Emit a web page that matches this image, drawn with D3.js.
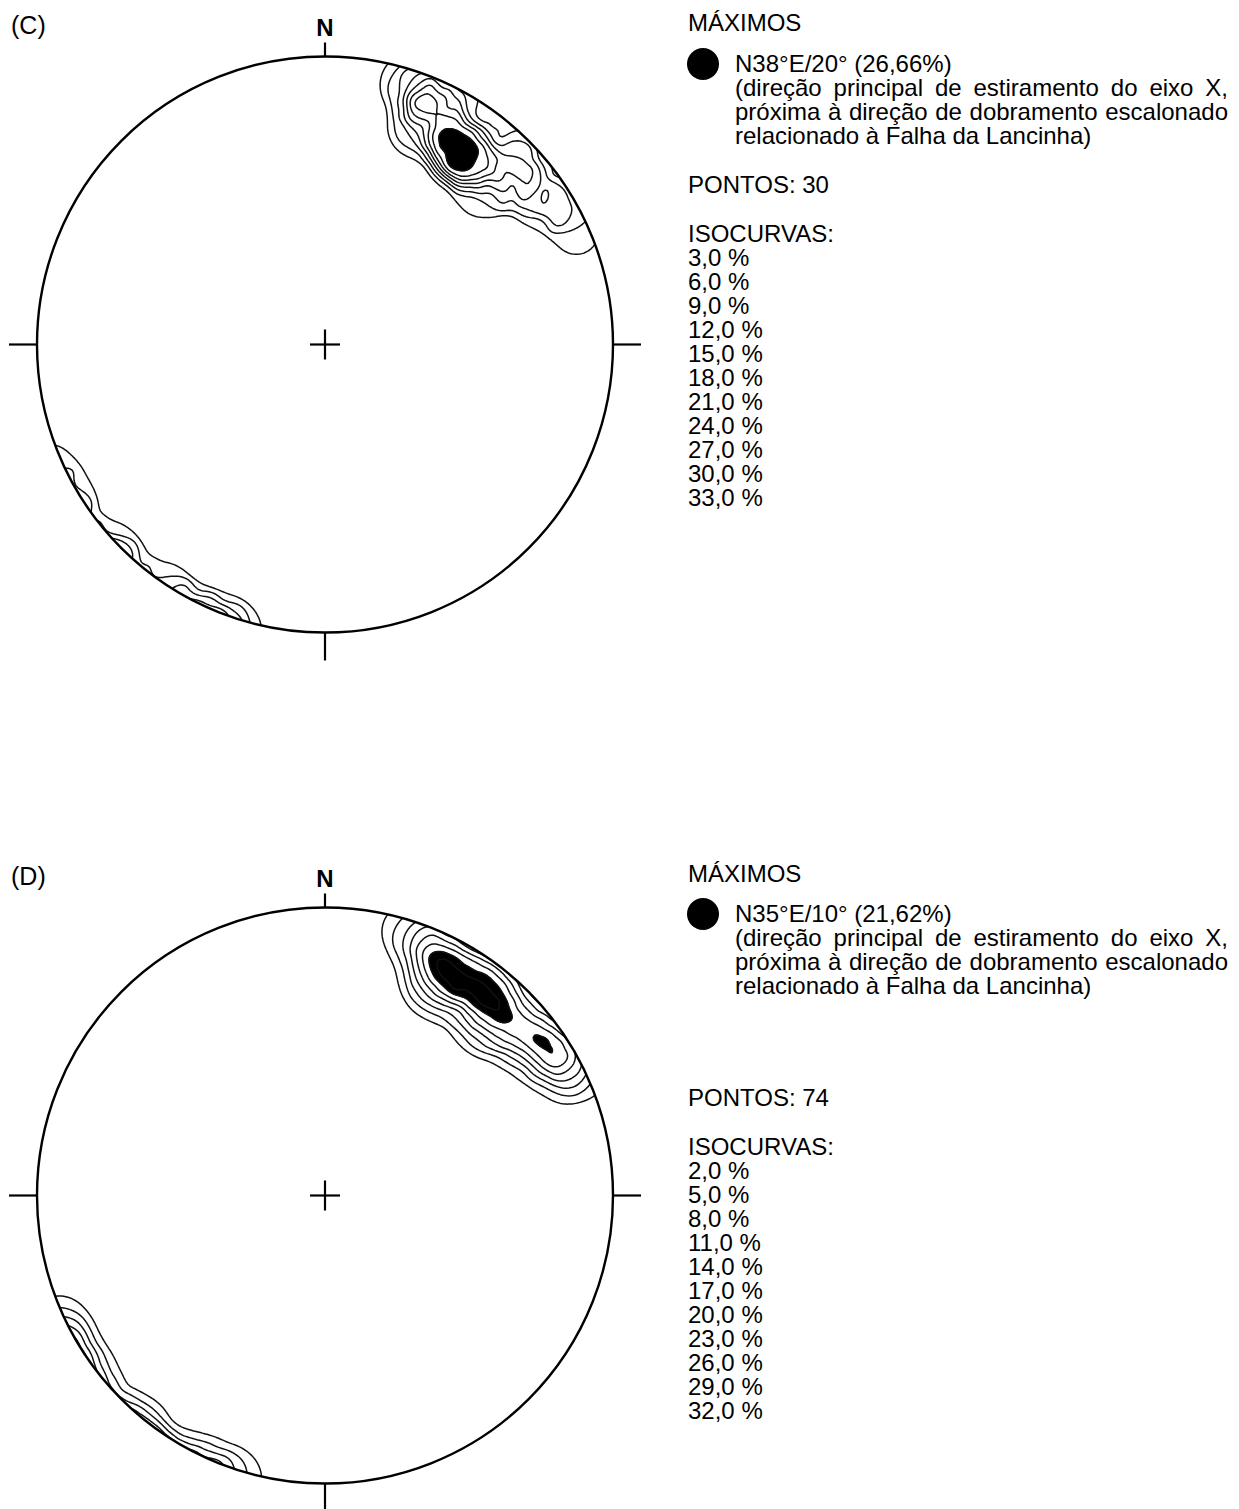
<!DOCTYPE html>
<html><head><meta charset="utf-8">
<script src="https://cdn.jsdelivr.net/npm/d3@7"></script>
<style>
body{margin:0;background:#fff}
svg text{font-family:"Liberation Sans",Arial,Helvetica,sans-serif;fill:#000}
</style>
</head><body>
<svg id="chart" width="1239" height="1509"></svg>
<script>
// ---- Data: lineations (trend°, plunge°) ----
const pointsC = [
  [32,20],[34,22],[36,20],[38,18],[40,21],[35,18],[37,23],[33,17],
  [26,15],[25,11],[22,18],[19,9],
  [17,4],[21,2],[24,6],[27,3],[31,5],[34,1],
  [46,26],[48,18],[52,14],[47,11],
  [42,4],[47,2],[55,7],[60,3],[66,5],
  [44,8],[24,21],[58,11]
];
const pointsD = [
  [19,3],[20,8],[22,1],[22,12],[23,5],
  [24,9],[25,2],[26,14],[26,6],[27,11],[28,3],[29,8],[29,15],
  [30,11],[31,5],[31,14],[32,9],[17,2],[33,12],[34,7],[26,20],[35,10],[52,1],[29,22],[36,8],
  [37,11],[37,3],[38,15],[39,7],[40,1],[40,12],[41,9],[41,4],[42,14],
  [43,6],[44,11],[18,6],[46,15],[27,17],[46,5],[48,12],
  [49,6],[38,6],[50,10],[51,14],[52,4],[53,8],[44,18],[54,12],
  [55,5],[56,9],[56,2],[57,13],[58,6],[59,1],[59,10],[60,4],
  [61,8],[62,2],[63,6],[64,1],[65,4],[43,22],[63,11],
  [28,19],[32,20],[38,19],[44,19],[50,17],[55,16],[24,17],[41,21],[47,20],[35,19]
];
const isoC = [3,6,9,12,15,18,21,24,27,30,33];
const isoD = [2,5,8,11,14,17,20,23,26,29,32];
const fillC = 24;
const fillD = 20;
const maxC = "N38°E/20° (26,66%)";
const maxD = "N35°E/10° (21,62%)";
const descLines = [
  "(direção principal de estiramento do eixo X,",
  "próxima à direção de dobramento escalonado",
  "relacionado à Falha da Lancinha)"
];

const svg = d3.select("#chart");
const R = 288, CX = 325;
const fmt = v => v.toFixed(1).replace(".", ",") + " %";

// equal-area (Schmidt) lower-hemisphere projection, unit radius
function proj(t, p) {
  const r = Math.SQRT2*Math.sin((90-p)/2*Math.PI/180);
  const tr = t*Math.PI/180;
  return [r*Math.sin(tr), -r*Math.cos(tr), r];
}

function panel(cfg) {
  const cy = cfg.cy;
  const g = svg.append("g");
  const n = 300, E = 1.12, h = 2*E/n;
  const pts = [];
  cfg.points.forEach(d => {
    const [x, y, r] = proj(d[0], d[1]);
    pts.push([x, y]);
    if (r > 0.8) { // peripheral counter: antipodal image
      const k = Math.sqrt(2 - r*r)/r;
      pts.push([-x*k, -y*k]);
    }
  });
  const rc = 0.1, s = 0.011; // counting circle = 1% of net area
  const values = new Float64Array(n*n);
  for (let j = 0; j < n; j++) {
    const uy = -E + (j+0.5)*h;
    for (let i = 0; i < n; i++) {
      const ux = -E + (i+0.5)*h;
      let sum = 0;
      for (const q of pts) {
        const dx = ux-q[0], dy = uy-q[1];
        if (Math.abs(dx) > 0.2 || Math.abs(dy) > 0.2) continue;
        const dd = Math.sqrt(dx*dx+dy*dy);
        sum += 1/(1+Math.exp((dd-rc)/s));
      }
      values[j*n+i] = 100*sum/cfg.points.length;
    }
  }
  const path = d3.geoPath(d3.geoIdentity().scale(R*h).translate([CX - E*R, cy - E*R]));
  const clipId = "clip" + cfg.id;
  svg.append("clipPath").attr("id", clipId).append("circle").attr("cx", CX).attr("cy", cy).attr("r", R);
  const cg = g.append("g").attr("clip-path", `url(#${clipId})`);
  const fillContour = d3.contours().size([n, n]).thresholds([cfg.fill])(values);
  cg.selectAll("path.fill").data(fillContour).join("path").attr("class","fill")
    .attr("d", path).attr("fill", "#000").attr("stroke", "#000").attr("stroke-width", 1);
  const cs = d3.contours().size([n, n]).thresholds(cfg.iso)(values);
  cg.selectAll("path.iso").data(cs).join("path").attr("class","iso")
    .attr("d", path).attr("fill", "none").attr("stroke", "#111").attr("stroke-width", 1.5)
    .attr("stroke-linejoin","round");

  g.append("circle").attr("cx", CX).attr("cy", cy).attr("r", R)
    .attr("fill", "none").attr("stroke", "#000").attr("stroke-width", 2.4);
  const tk = 28;
  const ticks = [[CX, cy-R, CX, cy-R-14],[CX, cy+R, CX, cy+R+tk],[CX-R, cy, CX-R-tk, cy],[CX+R, cy, CX+R+tk, cy],
                 [CX-15, cy, CX+15, cy],[CX, cy-15, CX, cy+15]];
  g.selectAll("line.tk").data(ticks).join("line").attr("class","tk")
    .attr("x1", d=>d[0]).attr("y1", d=>d[1]).attr("x2", d=>d[2]).attr("y2", d=>d[3])
    .attr("stroke", "#000").attr("stroke-width", 2.2);
  g.append("text").attr("x", CX).attr("y", cy-R-21).attr("text-anchor","middle")
    .attr("font-weight","bold").attr("font-size", 24).text("N");
  g.append("text").attr("x", 11).attr("y", cy-R-23).attr("font-size", 25).text(cfg.label);

  const L = cfg.leg, fs = 24;
  g.append("text").attr("x", 688).attr("y", L.max).attr("font-size", fs).text("MÁXIMOS");
  g.append("circle").attr("cx", 703).attr("cy", L.val-8).attr("r", 16).attr("fill","#000");
  g.append("text").attr("x", 735).attr("y", L.val).attr("font-size", fs).text(cfg.maxText);
  descLines.forEach((s, k) => {
    const t = g.append("text").attr("x", 735).attr("y", L.val + 24*(k+1)).attr("font-size", fs).text(s);
    if (k < 2) {
      const len = t.node().getComputedTextLength();
      const sp = s.split(" ").length - 1;
      t.attr("word-spacing", Math.max(0, ((1228-735) - len)/sp));
    }
  });
  g.append("text").attr("x", 688).attr("y", L.pontos).attr("font-size", fs).text("PONTOS: " + cfg.points.length);
  g.append("text").attr("x", 688).attr("y", L.iso).attr("font-size", fs).text("ISOCURVAS:");
  g.selectAll("text.isov").data(cfg.iso).join("text").attr("class","isov")
    .attr("x", 688).attr("y", (d,i) => L.iso + 24 + 24*i).attr("font-size", fs).text(fmt);
}

panel({id:"C", label:"(C)", cy:344.5, points:pointsC, iso:isoC, fill:fillC, maxText:maxC,
       leg:{max:31, val:72, pontos:193, iso:242}});
panel({id:"D", label:"(D)", cy:1195.5, points:pointsD, iso:isoD, fill:fillD, maxText:maxD,
       leg:{max:882, val:922, pontos:1106, iso:1155}});
</script>
</body></html>
